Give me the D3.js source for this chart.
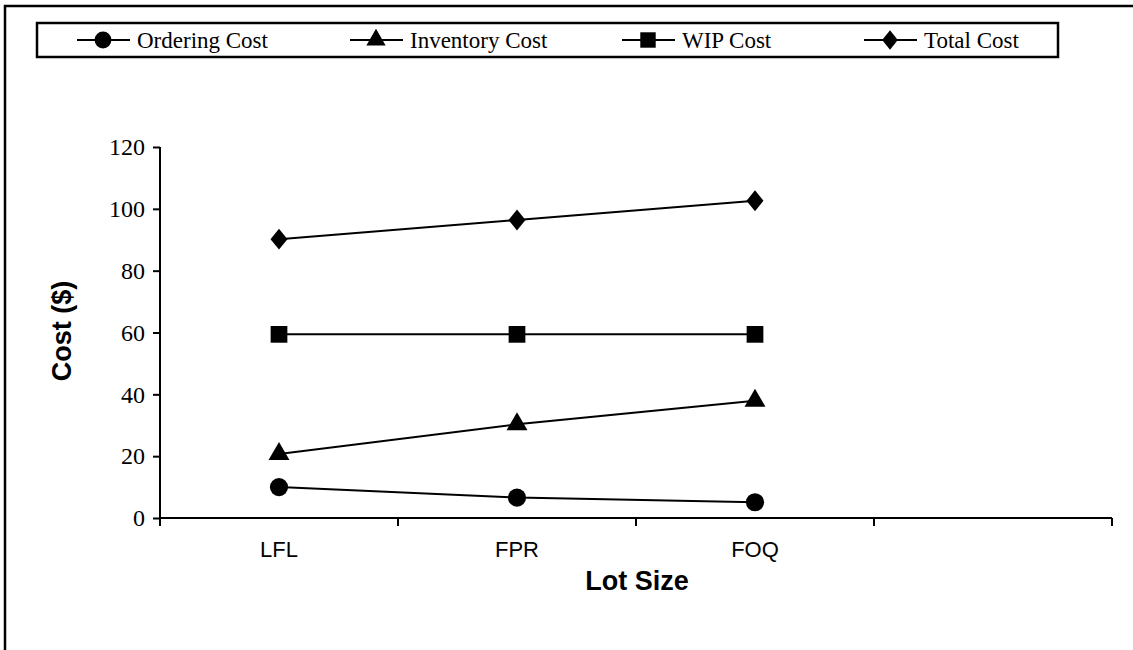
<!DOCTYPE html>
<html><head><meta charset="utf-8">
<script src="https://cdn.jsdelivr.net/npm/d3@7"></script>
<style>body{margin:0;background:#fff}svg{display:block}</style>
</head><body>
<svg id="c" width="1133" height="650"></svg>
<script>
const categories = ["LFL", "FPR", "FOQ", ""];
const seriesNames = ["Ordering Cost", "Inventory Cost", "WIP Cost", "Total Cost"];
const orderingCost = [10.0, 6.6, 5.1];
const inventoryCost = [20.7, 30.3, 37.9];
const wipCost = [59.4, 59.4, 59.4];
const totalCost = [90.2, 96.4, 102.6];
const yTicks = [0, 20, 40, 60, 80, 100, 120];

const series = [
  {name: seriesNames[0], values: orderingCost, sym: d3.symbolCircle, size: 260, tf: ""},
  {name: seriesNames[1], values: inventoryCost, sym: d3.symbolTriangle, size: 190, tf: ""},
  {name: seriesNames[2], values: wipCost, sym: d3.symbolSquare, size: 280, tf: ""},
  {name: seriesNames[3], values: totalCost, sym: d3.symbolDiamond, size: 127, tf: " scale(1.4,1)"}
];

const serif = "Liberation Serif, Times New Roman, serif";
const sans = "Liberation Sans, Arial, sans-serif";
const svg = d3.select("#c");
// outer frame (only left and top visible)
svg.append("rect").attr("x", 5).attr("y", 6).attr("width", 1200).attr("height", 700)
  .attr("fill", "none").attr("stroke", "#000").attr("stroke-width", 2.5);

const x = d3.scaleBand().domain(categories.map((c, i) => i)).range([160, 1112]);
const y = d3.scaleLinear().domain([0, 120]).range([518, 147]);

// Y axis
const yAxis = svg.append("g").attr("transform", "translate(160,0)")
  .call(d3.axisLeft(y).tickValues(yTicks).tickSize(7).tickPadding(8));
yAxis.select(".domain").attr("stroke-width", 2).attr("d", "M0," + y(120) + "V" + y(0));
yAxis.selectAll(".tick line").attr("stroke-width", 2);
yAxis.selectAll("text").attr("font-family", serif).attr("font-size", 24).attr("fill", "#000");

// X axis
const xg = svg.append("g");
xg.append("line").attr("x1", x.range()[0]).attr("x2", x.range()[1]).attr("y1", y(0)).attr("y2", y(0))
  .attr("stroke", "#000").attr("stroke-width", 2);
xg.selectAll(".xt").data(d3.range(categories.length + 1)).join("line")
  .attr("x1", i => x.range()[0] + i * x.step()).attr("x2", i => x.range()[0] + i * x.step())
  .attr("y1", y(0)).attr("y2", y(0) + 8).attr("stroke", "#000").attr("stroke-width", 2);
xg.selectAll(".xl").data(categories).join("text")
  .attr("x", (c, i) => x(i) + x.bandwidth() / 2).attr("y", 557)
  .attr("text-anchor", "middle").attr("font-family", sans)
  .attr("font-size", 22).text(c => c);

// Axis titles
svg.append("text").attr("x", 637).attr("y", 590).attr("text-anchor", "middle")
  .attr("font-family", sans).attr("font-weight", "bold")
  .attr("font-size", 27).text("Lot Size");
svg.append("text").attr("transform", "translate(71,331) rotate(-90)").attr("text-anchor", "middle")
  .attr("font-family", sans).attr("font-weight", "bold")
  .attr("font-size", 27).text("Cost ($)");

// Lines & markers
const cx = i => x(i) + x.bandwidth() / 2;
const line = d3.line().x((d, i) => cx(i)).y(d => y(d));
series.forEach(s => {
  svg.append("path").attr("d", line(s.values)).attr("fill", "none")
    .attr("stroke", "#000").attr("stroke-width", 2);
  svg.selectAll(null).data(s.values).join("path")
    .attr("transform", (d, i) => `translate(${cx(i)},${y(d)})` + s.tf)
    .attr("d", d3.symbol(s.sym, s.size)).attr("fill", "#000");
});

// Legend
const lg = svg.append("g");
lg.append("rect").attr("x", 37).attr("y", 23).attr("width", 1021).attr("height", 34)
  .attr("fill", "#fff").attr("stroke", "#000").attr("stroke-width", 2.5);
const legX = [77, 350, 622, 864];
series.forEach((s, i) => {
  const g = lg.append("g").attr("transform", `translate(${legX[i]},40)`);
  g.append("line").attr("x1", 0).attr("x2", 53).attr("stroke", "#000").attr("stroke-width", 2);
  g.append("path").attr("transform", "translate(26,0)" + s.tf)
    .attr("d", d3.symbol(s.sym, s.size * 0.85)).attr("fill", "#000");
  g.append("text").attr("x", 60).attr("y", 8).attr("font-family", serif)
    .attr("font-size", 23).text(s.name);
});
</script>
</body></html>
